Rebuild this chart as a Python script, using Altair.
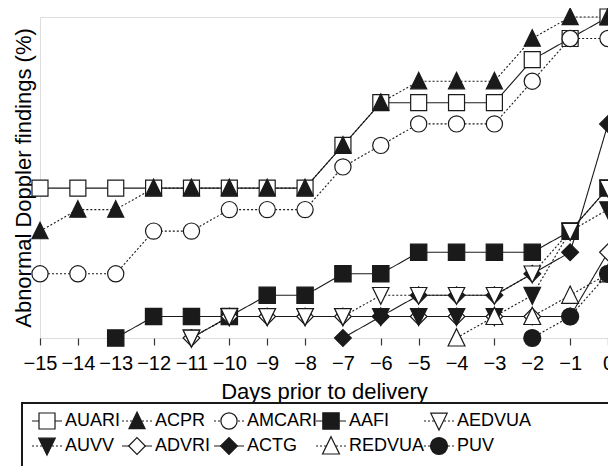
import altair as alt
import pandas as pd

# ---------------- data (percent of cases) ----------------
series_names = ["AUARI", "ACPR", "AMCARI", "AAFI", "AEDVUA",
                "AUVV", "ADVRI", "ACTG", "REDVUA", "PUV"]

auari_start = -15
auari = [46.7, 46.7, 46.7, 46.7, 46.7, 46.7, 46.7, 46.7, 60.0, 73.3, 73.3, 73.3, 73.3, 86.7, 93.3, 100.0]
acpr_start = -15
acpr = [33.3, 40.0, 40.0, 46.7, 46.7, 46.7, 46.7, 46.7, 60.0, 73.3, 80.0, 80.0, 80.0, 93.3, 100.0, 100.0]
amcari_start = -15
amcari = [20.0, 20.0, 20.0, 33.3, 33.3, 40.0, 40.0, 40.0, 53.3, 60.0, 66.7, 66.7, 66.7, 80.0, 93.3, 93.3]
aafi_start = -13
aafi = [0.0, 6.7, 6.7, 6.7, 13.3, 13.3, 20.0, 20.0, 26.7, 26.7, 26.7, 26.7, 33.3, 46.7]
aedvua_start = -11
aedvua = [0.0, 6.7, 6.7, 6.7, 6.7, 13.3, 13.3, 13.3, 13.3, 20.0, 33.3, 46.7]
auvv_start = -11
auvv = [0.0, 6.7, 6.7, 6.7, 6.7, 6.7, 6.7, 6.7, 6.7, 13.3, 33.3, 40.0]
advri_start = -11
advri = [0.0, 6.7, 6.7, 6.7, 6.7, 6.7, 6.7, 6.7, 6.7, 6.7, 6.7, 26.7]
actg_start = -7
actg = [0.0, 6.7, 13.3, 13.3, 13.3, 20.0, 26.7, 66.7]
redvua_start = -4
redvua = [0.0, 6.7, 6.7, 13.3, 20.0]
puv_start = -2
puv = [0.0, 6.7, 20.0]

x_ticks = list(range(-15, 1))

series_values = {
    "AUARI": (auari_start, auari), "ACPR": (acpr_start, acpr),
    "AMCARI": (amcari_start, amcari), "AAFI": (aafi_start, aafi),
    "AEDVUA": (aedvua_start, aedvua), "AUVV": (auvv_start, auvv),
    "ADVRI": (advri_start, advri), "ACTG": (actg_start, actg),
    "REDVUA": (redvua_start, redvua), "PUV": (puv_start, puv),
}

# drawing order (later = on top)
draw_order = ["AUARI", "ACPR", "AMCARI", "AAFI", "ADVRI",
              "ACTG", "AUVV", "AEDVUA", "REDVUA", "PUV"]

rows = []
for name in draw_order:
    start, vals = series_values[name]
    for i, v in enumerate(vals):
        rows.append({"series": name, "day": start + i, "pct": v})
df = pd.DataFrame(rows)

# ---------------- styles ----------------
TRI_UP = "M0,-1.1L1,0.95L-1,0.95Z"
TRI_DN = "M0,1.1L1,-0.95L-1,-0.95Z"
shape_of = {"AUARI": "square", "ACPR": TRI_UP, "AMCARI": "circle", "AAFI": "square",
            "AEDVUA": TRI_DN, "AUVV": TRI_DN, "ADVRI": "diamond", "ACTG": "diamond",
            "REDVUA": TRI_UP, "PUV": "circle"}
fill_of = {"AUARI": "white", "ACPR": "#1a1a1a", "AMCARI": "white", "AAFI": "#1a1a1a",
           "AEDVUA": "white", "AUVV": "#1a1a1a", "ADVRI": "white", "ACTG": "#1a1a1a",
           "REDVUA": "white", "PUV": "#1a1a1a"}
size_of = {"AUARI": 256, "ACPR": 289, "AMCARI": 256, "AAFI": 256, "AEDVUA": 289,
           "AUVV": 289, "ADVRI": 441, "ACTG": 441, "REDVUA": 289, "PUV": 256}
leg_size_of = {"AUARI": 225, "ACPR": 256, "AMCARI": 225, "AAFI": 225, "AEDVUA": 256,
               "AUVV": 256, "ADVRI": 361, "ACTG": 361, "REDVUA": 256, "PUV": 225}
solid = [1, 0]
dots = [2, 2]
dash_of = {"AUARI": solid, "ACPR": dots, "AMCARI": dots, "AAFI": solid, "AEDVUA": dots,
           "AUVV": dots, "ADVRI": solid, "ACTG": solid, "REDVUA": dots, "PUV": dots}

dom = series_names
shape_scale = alt.Scale(domain=dom, range=[shape_of[n] for n in dom])
fill_scale = alt.Scale(domain=dom, range=[fill_of[n] for n in dom])
size_scale = alt.Scale(domain=dom, range=[size_of[n] for n in dom])
leg_size_scale = alt.Scale(domain=dom, range=[leg_size_of[n] for n in dom])
dash_scale = alt.Scale(domain=dom, range=[dash_of[n] for n in dom])

W, H = 568, 321
FONT = "Liberation Sans"

xaxis = alt.Axis(values=x_ticks, title="Days prior to delivery", grid=False,
                 domain=False, tickSize=7, tickColor="#333", tickWidth=1.2,
                 labelFontSize=20, labelColor="black", labelPadding=8,
                 labelFont=FONT, titleFont=FONT, titleFontSize=22,
                 titleFontWeight="normal", titleColor="black", titlePadding=8,
                 labelFlush=False, labelOverlap=False, labelBound=False)
yaxis = alt.Axis(title="Abnormal Doppler findings (%)", grid=False, domain=False,
                 ticks=False, labels=False, titleFont=FONT, titleFontSize=22,
                 titleFontWeight="normal", titleColor="black", titlePadding=5)
xenc = alt.X("day:Q", scale=alt.Scale(domain=[-15, 0], nice=False, zero=False), axis=xaxis)
yenc = alt.Y("pct:Q", scale=alt.Scale(domain=[0, 100], nice=False), axis=yaxis)

lines = alt.Chart(df).mark_line(color="#1a1a1a", strokeWidth=1.1).encode(
    x=xenc, y=yenc, detail="series:N",
    strokeDash=alt.StrokeDash("series:N", scale=dash_scale, legend=None),
)

points = alt.Chart(df).mark_point(filled=False, stroke="#1a1a1a", strokeWidth=1.2,
                                  opacity=1, strokeOpacity=1, fillOpacity=1).encode(
    x=xenc, y=yenc,
    shape=alt.Shape("series:N", scale=shape_scale, legend=None),
    fill=alt.Fill("series:N", scale=fill_scale, legend=None),
    size=alt.Size("series:N", scale=size_scale, legend=None),
)

# ---------------- hand-made legend (pixel layout) ----------------
leg_text_x = [65, 155, 247, 349, 457]   # page x of label starts per column
leg_row_y = [421, 446]                 # page y of rows
ox, oy = 40, 17                        # page position of plot origin
leg_rows = []
for i, n in enumerate(series_names):
    c, r = i % 5, i // 5
    tx = leg_text_x[c] - ox
    ty = leg_row_y[r] - oy
    leg_rows.append({"series": n, "tx": tx, "lx1": tx - 33, "lx2": tx - 3,
                     "sx": tx - 18, "ty": ty})
leg = pd.DataFrame(leg_rows)

leg_lines = alt.Chart(leg).mark_rule(color="#1a1a1a", strokeWidth=1.1).encode(
    x=alt.X("lx1:Q", scale=None), x2="lx2:Q", y=alt.Y("ty:Q", scale=None),
    strokeDash=alt.StrokeDash("series:N", scale=dash_scale, legend=None),
)
leg_syms = alt.Chart(leg).mark_point(filled=False, stroke="#1a1a1a", strokeWidth=1.2,
                                     opacity=1, fillOpacity=1).encode(
    x=alt.X("sx:Q", scale=None), y=alt.Y("ty:Q", scale=None),
    shape=alt.Shape("series:N", scale=shape_scale, legend=None),
    fill=alt.Fill("series:N", scale=fill_scale, legend=None),
    size=alt.Size("series:N", scale=leg_size_scale, legend=None),
)
leg_text = alt.Chart(leg).mark_text(align="left", baseline="middle", fontSize=18,
                                    font=FONT, color="black").encode(
    x=alt.X("tx:Q", scale=None), y=alt.Y("ty:Q", scale=None), text="series:N",
)
leg_box = alt.Chart(leg).mark_rect(fill=None, stroke="#1a1a1a", strokeWidth=1.4).encode(
    x=alt.value(22 - ox), x2=alt.value(700), y=alt.value(403 - oy), y2=alt.value(520),
)

chart = alt.layer(lines, points, leg_box, leg_lines, leg_syms, leg_text).properties(
    width=W, height=H,
    autosize=alt.AutoSizeParams(type="none"),
    padding={"left": 32, "top": 9, "right": 0, "bottom": 128},
).configure_view(stroke="#1a1a1a", strokeWidth=1.3).configure(font=FONT).configure_axisX(
    labelOverlap=False
)

chart.save("out.html", embed_options={"renderer": "svg", "actions": False})
